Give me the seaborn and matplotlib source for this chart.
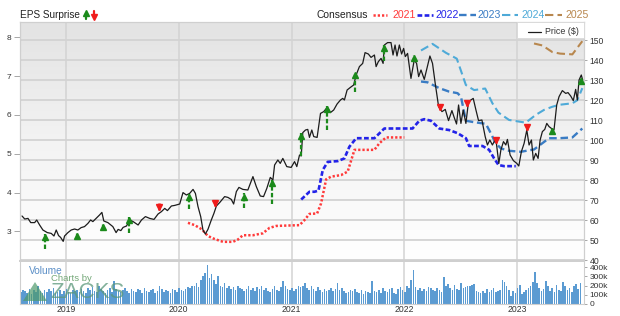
import numpy as np
import pandas as pd
import matplotlib
matplotlib.use("Agg")
import matplotlib.pyplot as plt
import matplotlib.transforms as mtransforms
from matplotlib.lines import Line2D
from matplotlib.patches import Polygon, Rectangle
from matplotlib.colors import LinearSegmentedColormap
import seaborn as sns

# ---------------- data ----------------
price_t = [2018.611, 2018.635, 2018.664, 2018.688, 2018.723, 2018.741, 2018.767, 2018.796, 2018.835, 2018.870,
           2018.894, 2018.914, 2018.935, 2018.953, 2018.976, 2018.988, 2019.018, 2019.047, 2019.077, 2019.106,
           2019.135, 2019.165, 2019.195, 2019.219, 2019.239, 2019.268, 2019.298, 2019.319, 2019.336, 2019.372,
           2019.416, 2019.445, 2019.463, 2019.487, 2019.507, 2019.537, 2019.566, 2019.596, 2019.640, 2019.670,
           2019.705, 2019.743, 2019.781, 2019.817, 2019.847, 2019.876, 2019.900, 2019.935, 2019.965, 2020.009,
           2020.038, 2020.068, 2020.097, 2020.127, 2020.148, 2020.171, 2020.195, 2020.215, 2020.236, 2020.259,
           2020.289, 2020.312, 2020.334, 2020.363, 2020.407, 2020.436, 2020.466, 2020.487, 2020.511, 2020.534,
           2020.569, 2020.613, 2020.658, 2020.688, 2020.723, 2020.752, 2020.781, 2020.812, 2020.835, 2020.850,
           2020.879, 2020.900, 2020.923, 2020.958, 2020.997, 2021.027, 2021.047, 2021.071, 2021.086, 2021.100,
           2021.124, 2021.144, 2021.159, 2021.180, 2021.197, 2021.227, 2021.257, 2021.286, 2021.316, 2021.345,
           2021.374, 2021.404, 2021.434, 2021.454, 2021.469, 2021.493, 2021.522, 2021.551, 2021.573, 2021.602,
           2021.631, 2021.652, 2021.681, 2021.705, 2021.735, 2021.750, 2021.770, 2021.794, 2021.812, 2021.823,
           2021.852, 2021.882, 2021.900, 2021.918, 2021.935, 2021.956, 2021.976, 2021.994, 2022.009, 2022.029,
           2022.059, 2022.088, 2022.109, 2022.127, 2022.148, 2022.177, 2022.197, 2022.227, 2022.250, 2022.274,
           2022.304, 2022.334, 2022.363, 2022.392, 2022.422, 2022.442, 2022.463, 2022.481, 2022.502, 2022.522,
           2022.546, 2022.569, 2022.590, 2022.611, 2022.635, 2022.658, 2022.688, 2022.717, 2022.737, 2022.758,
           2022.781, 2022.811, 2022.838, 2022.856, 2022.879, 2022.900, 2022.914, 2022.938, 2022.967, 2022.997,
           2023.015, 2023.038, 2023.062, 2023.086, 2023.106, 2023.127, 2023.144, 2023.165, 2023.186, 2023.204,
           2023.224, 2023.245, 2023.263, 2023.283, 2023.304, 2023.327, 2023.351, 2023.372, 2023.401, 2023.431,
           2023.451, 2023.475, 2023.498, 2023.519, 2023.534, 2023.549, 2023.569, 2023.581]
price_v = [62, 60.5, 60.8, 58.7, 58.7, 60, 57.5, 55, 53.7, 53.3,
           52, 55, 52.2, 51.3, 49.3, 52, 53.7, 55, 55.5, 55,
           56.2, 56.7, 58.3, 60, 59.2, 60.8, 62.5, 63.8, 59.5, 58.7,
           56.7, 53.7, 55.3, 54.7, 56.3, 57, 60, 59.2, 57.5, 60,
           61.7, 60.8, 60.3, 63, 64.2, 65.8, 64.7, 67, 67.3, 68,
           73.7, 72.5, 73.3, 75.3, 73.3, 66.7, 61.7, 55, 53, 55.3,
           60, 63.3, 67, 68.7, 71.7, 71.3, 70.3, 68, 74.2, 76.3,
           75.3, 75, 81.7, 76.7, 72, 71.7, 75.8, 81.3, 80, 87.5,
           90, 88.3, 90.8, 86.7, 86.3, 89.2, 86.7, 92.5, 92, 103.7,
           105, 105.3, 101.3, 105, 101.7, 101.3, 113.3, 114.2, 116.3, 113.7,
           115, 118, 120, 120.8, 120, 125, 126.3, 127.5, 132.5, 136.7,
           138.3, 143.7, 143, 141.3, 142.5, 136.7, 139.2, 140.8, 138.3, 147.5,
           148.7, 148.7, 142.5, 147.5, 142, 147.5, 143, 145.8, 141.7, 143.3,
           130.8, 140, 138.3, 131.7, 135, 130.3, 135, 142, 138.3, 128.3,
           116.7, 114.2, 115.3, 109.7, 114.7, 111.3, 108, 117.5, 108.3, 115,
           108.3, 119.2, 120, 120.8, 115, 109.7, 110, 101.7, 97.5, 100,
           97.5, 100.8, 88.3, 95, 99.2, 97.5, 100.3, 92.5, 89.7, 88.3,
           87, 94.2, 98.3, 105, 97.5, 100, 90, 93.3, 90.8, 100,
           104.2, 105.3, 108.3, 106.7, 105.8, 105, 117.5, 121.7, 124.7, 123.3,
           123.7, 122, 119.7, 125.3, 120, 130, 132.5, 130]

c21_t = [2020.082, 2020.142, 2020.206, 2020.259, 2020.312, 2020.392, 2020.481, 2020.525, 2020.569, 2020.658,
         2020.746, 2020.805, 2020.865, 2021.071, 2021.115, 2021.159, 2021.227, 2021.262, 2021.307, 2021.351,
         2021.439, 2021.498, 2021.558, 2021.735, 2021.779, 2021.838, 2022.000]
c21_v = [3.22, 3.16, 3.05, 2.88, 2.81, 2.73, 2.73, 2.79, 2.90, 2.90,
         2.95, 3.09, 3.14, 3.16, 3.29, 3.45, 3.46, 3.72, 4.34, 4.41,
         4.45, 4.54, 5.10, 5.10, 5.27, 5.42, 5.42]
c22_t = [2021.086, 2021.159, 2021.204, 2021.239, 2021.277, 2021.321, 2021.410, 2021.469, 2021.513, 2021.573,
         2021.735, 2021.823, 2022.073, 2022.133, 2022.177, 2022.236, 2022.310, 2022.398, 2022.472, 2022.546,
         2022.575, 2022.693, 2022.752, 2022.796, 2022.835, 2022.885, 2022.988]
c22_v = [3.82, 4.02, 4.02, 4.05, 4.58, 4.79, 4.81, 4.88, 5.18, 5.40,
         5.40, 5.65, 5.65, 5.85, 5.89, 5.85, 5.65, 5.61, 5.53, 5.40,
         5.20, 5.20, 5.10, 4.88, 4.71, 4.68, 4.68]
c23_t = [2022.148, 2022.206, 2022.310, 2022.398, 2022.472, 2022.502, 2022.546, 2022.604, 2022.723, 2022.752,
         2022.811, 2022.856, 2022.914, 2023.032, 2023.091, 2023.150, 2023.283, 2023.372, 2023.490, 2023.578]
c23_v = [6.86, 6.84, 6.69, 6.60, 6.56, 6.47, 5.85, 5.82, 5.77, 5.61,
         5.27, 5.14, 5.08, 5.05, 5.08, 5.11, 5.40, 5.40, 5.42, 5.65]
c24_t = [2022.148, 2022.250, 2022.369, 2022.465, 2022.546, 2022.619, 2022.717, 2022.781, 2022.835, 2022.929,
         2023.077, 2023.165, 2023.239, 2023.312, 2023.372, 2023.490, 2023.534, 2023.578]
c24_v = [7.66, 7.83, 7.60, 7.45, 6.77, 6.64, 6.68, 6.30, 6.06, 5.87,
         5.80, 6.00, 6.13, 6.21, 6.26, 6.30, 6.38, 6.69]
c25_t = [2023.150, 2023.224, 2023.312, 2023.381, 2023.490, 2023.578]
c25_v = [7.84, 7.79, 7.62, 7.58, 7.56, 7.90]

surp_t = [2018.817, 2019.100, 2019.327, 2019.560, 2019.823, 2020.088, 2020.323, 2020.578, 2020.829, 2021.086,
          2021.316, 2021.566, 2021.817, 2022.088, 2022.316, 2022.560, 2022.817, 2023.086, 2023.312, 2023.564]
surp_sign = ['+', '+', '+', '+', '-', '+', '-', '+', '+', '+',
             '+', '+', '+', '+', '-', '-', '-', '-', '+', '+']
surp_tip = [53, 53.7, 58, 61.7, 65, 73, 67, 73.3, 80, 103.7,
            117, 134.2, 147.5, 142.5, 115, 117, 98.5, 105, 106.3, 131.3]
surp_tail = [45.3, 51, 55.5, 53.7, 68.3, 65.3, 70, 65.8, 68, 92,
             105, 124.2, 139.7, 139.2, 118, 120, 101.5, 108, 103.7, 128.7]

vol_start = 2018.60
vol_k = [130, 150, 140, 120, 160, 110, 150, 130, 200, 140, 120, 150, 130, 160, 140, 170, 120, 130, 150, 110, 140, 160, 130, 120, 150, 140,
         150, 130, 160, 140, 120, 170, 150, 180, 140, 130, 200, 160, 140, 120, 150, 170, 130, 250, 160, 140, 130, 150, 170, 140, 120, 160,
         140, 130, 160, 150, 120, 170, 140, 130, 150, 160, 120, 140, 190, 160, 130, 150, 140, 120, 160, 150, 130, 170, 150, 140, 160, 180,
         170, 200, 190, 230, 180, 260, 300, 340, 420, 280, 320, 260, 220, 300, 200, 180, 230, 170, 190, 160, 180, 150, 200, 170, 160, 140,
         160, 190, 150, 170, 140, 180, 160, 200, 150, 170, 140, 130, 160, 190, 150, 140, 180, 250, 200, 160, 150, 170, 140, 160, 200, 180,
         190, 230, 170, 150, 200, 160, 140, 180, 150, 130, 160, 140, 150, 170, 140, 160, 230, 150, 170, 140, 120, 130, 150, 140, 160, 130,
         120, 150, 110, 140, 130, 120, 250, 140, 130, 150, 120, 170, 140, 130, 160, 170, 120, 110, 160, 180, 150, 130, 200, 170, 260, 370,
         180, 150, 170, 140, 160, 140, 180, 170, 150, 140, 170, 150, 130, 290, 200, 220, 170, 150, 210, 160, 150, 230, 170, 180, 200, 190,
         210, 220, 140, 130, 120, 140, 120, 160, 130, 150, 170, 130, 140, 150, 260, 240, 190, 150, 90, 140, 120, 170, 210, 110, 130, 150,
         170, 200, 240, 350, 230, 170, 140, 160, 250, 190, 140, 170, 130, 210, 150, 140, 240, 200, 150, 170, 130, 200, 220, 160, 230]

years = [2019, 2020, 2021, 2022, 2023]
year_labels = ["2019", "2020", "2021", "2022", "2023"]
eps_ticks = [3, 4, 5, 6, 7, 8]
price_ticks = [40, 50, 60, 70, 80, 90, 100, 110, 120, 130, 140, 150]
vol_ticks = [0, 100, 200, 300, 400]
vol_tick_labels = ["0", "100k", "200k", "300k", "400k"]

# ---------------- styling ----------------
sns.set_theme(style="white")
plt.rcParams['font.family'] = ['Liberation Sans', 'DejaVu Sans']

W, H = 620, 316
fig = plt.figure(figsize=(W / 100, H / 100), dpi=100)
fig.patch.set_facecolor('white')


def fx(px):
    return px / W


def fy(py):
    return 1 - py / H


L, R, T, B = 20, 584, 22, 260
ax = fig.add_axes([fx(L), fy(B), fx(R) - fx(L), fy(T) - fy(B)])
axv = fig.add_axes([fx(L), fy(304), fx(R) - fx(L), fy(261) - fy(304)])
axp = ax.twinx()

XMIN, XMAX = 2018.593, 2023.593
GRID = '#d3d3d3'
TXT = '#333333'

# background gradient
grad = np.linspace(0, 1, 256).reshape(-1, 1)
cm = LinearSegmentedColormap.from_list('g', ['#e3e3e3', '#f3f3f3', '#ffffff'])
ax.imshow(grad, extent=[0, 1, 0, 1], transform=ax.transAxes, aspect='auto',
          cmap=cm, origin='upper', zorder=0, interpolation='bicubic')

ax.set_xlim(XMIN, XMAX)
axv.set_xlim(XMIN, XMAX)
ax.set_ylim(2.262, 8.394)
axp.set_ylim(40, 159)

# horizontal grid at price ticks drawn beneath everything
ytr = axp.get_yaxis_transform()
for p in price_ticks:
    ax.add_line(Line2D([0, 1], [p, p], transform=ytr, color=GRID, lw=1.3, zorder=1))
for y in years:
    ax.axvline(y, color=GRID, lw=1.1, zorder=1)
    axv.axvline(y, color=GRID, lw=1.1, zorder=0)

# consensus lines (EPS axis)
cons = [
    (c21_t, c21_v, '#ff3a3a', 1.8, (0, (0.9, 0.8))),
    (c22_t, c22_v, '#2323e8', 1.9, (0, (1.8, 0.9))),
    (c23_t, c23_v, '#3a7cc4', 1.7, (0, (3.2, 1.6))),
    (c24_t, c24_v, '#4eaad8', 1.5, (0, (4.0, 2.0))),
    (c25_t, c25_v, '#b8874e', 1.5, (0, (4.0, 2.0))),
]
for t, v, c, lw, ls in cons:
    sns.lineplot(x=t, y=v, ax=ax, color=c, lw=lw, linestyle=ls, zorder=3, sort=False)

# price line (price axis)
sns.lineplot(x=price_t, y=price_v, ax=axp, color='#1c1c1c', lw=0.9, zorder=4, sort=False)

# EPS surprise arrows
GREEN = '#1b8a1b'
RED = '#f01c1c'
down_off = mtransforms.offset_copy(axp.transData, fig=fig, y=-2.3, units='points')
up_off = mtransforms.offset_copy(axp.transData, fig=fig, y=2.3, units='points')
for t, s, tip, tail in zip(surp_t, surp_sign, surp_tip, surp_tail):
    if s == '+':
        axp.plot([t, t], [tail, tip], color=GREEN, lw=1.6, linestyle=(0, (2, 1)), zorder=5,
                 solid_capstyle='butt', dash_capstyle='butt')
        axp.plot([t], [tip], marker='^', ms=4.8, color=GREEN, mec=GREEN, transform=down_off, zorder=6)
    else:
        axp.plot([t, t], [tail, tip], color=RED, lw=1.8, zorder=5, solid_capstyle='butt')
        axp.plot([t], [tip], marker='v', ms=5.0, color=RED, mec=RED, transform=up_off, zorder=6)

# axes cosmetics
for a in (ax, axp):
    for sp in a.spines.values():
        sp.set_color('#cfcfcf')
        sp.set_linewidth(0.8)
ax.set_xticks(years)
ax.tick_params(axis='x', bottom=False, labelbottom=False)
axp.tick_params(axis='x', bottom=False, labelbottom=False)

ax.yaxis.tick_left()
ax.set_yticks(eps_ticks)
ax.set_yticklabels([str(e) for e in eps_ticks])
ax.tick_params(axis='y', left=True, right=False, labelleft=True, labelright=False, length=4,
               width=0.6, color='#999999', labelsize=6, labelcolor=TXT, pad=2)

axp.yaxis.tick_right()
axp.set_yticks(price_ticks)
axp.set_yticklabels([str(p) for p in price_ticks])
axp.tick_params(axis='y', right=True, left=False, labelright=True, labelleft=False, length=2,
                width=0.6, color='#999999', labelsize=6.2, labelcolor=TXT, pad=2)
ax.set_xlabel('')
ax.set_ylabel('')
axp.set_ylabel('')

# volume panel
vol_t = [vol_start + i / 52 for i in range(len(vol_k))]
axv.bar(vol_t, vol_k, width=0.74 / 52, color='#5b9bd2', edgecolor='none', zorder=2)
axv.set_ylim(0, 465)
axv.set_facecolor('white')
axv.set_xticks(years)
axv.set_xticklabels(year_labels)
axv.tick_params(axis='x', bottom=False, length=0, labelsize=6.2, labelcolor=TXT, pad=1)
axv.yaxis.tick_right()
axv.set_yticks(vol_ticks)
axv.set_yticklabels(vol_tick_labels)
axv.tick_params(axis='y', right=True, left=False, labelright=True, labelleft=False, length=2,
                width=0.6, color='#999999', labelsize=6, labelcolor=TXT, pad=2)
for sp in axv.spines.values():
    sp.set_color('#cfcfcf')
    sp.set_linewidth(0.8)
axv.spines['top'].set_linewidth(1.4)

# watermark
fig.text(fx(29), fy(270.5), 'Volume', color='#5b8fc7', fontsize=7.3, va='center', ha='left', zorder=10)
fig.text(fx(51), fy(278.5), 'Charts by', color='#74a878', fontsize=6.8, va='center', ha='left', zorder=10)
fig.text(fx(50), fy(293), 'ZACKS', color='#5a977a', alpha=0.75, fontsize=16, va='center', ha='left', zorder=10)
tri = Polygon([[fx(23), fy(301)], [fx(35), fy(282)], [fx(47), fy(301)]], closed=True,
              transform=fig.transFigure, facecolor='#4e9a6c', alpha=0.7, edgecolor='none', zorder=10)
fig.add_artist(tri)

# top legends
fig.text(fx(20), fy(15), 'EPS Surprise', color='#222222', fontsize=7.2, va='center', ha='left')
fig.add_artist(Line2D([fx(85.5), fx(85.5)], [fy(19), fy(14)], transform=fig.transFigure, color=GREEN, lw=1.6))
fig.add_artist(Line2D([fx(85.5)], [fy(13)], transform=fig.transFigure, marker='^', ms=4.2, color=GREEN, lw=0))
fig.add_artist(Line2D([fx(93.5), fx(93.5)], [fy(11), fy(16)], transform=fig.transFigure, color=RED, lw=1.6))
fig.add_artist(Line2D([fx(93.5)], [fy(17)], transform=fig.transFigure, marker='v', ms=4.2, color=RED, lw=0))

fig.text(fx(316.5), fy(15), 'Consensus', color='#222222', fontsize=7.4, va='center', ha='left')
leg_items = [
    (373, 387, 392.5, '2021', '#ff3a3a', 1.8, (0, (0.9, 0.8))),
    (416.5, 433, 436, '2022', '#2323e8', 1.9, (0, (1.8, 0.9))),
    (459, 476, 478, '2023', '#3a7cc4', 1.7, (0, (3.2, 1.6))),
    (502.5, 518, 521.5, '2024', '#4eaad8', 1.5, (0, (4.0, 2.0))),
    (545, 562, 565, '2025', '#b8874e', 1.5, (0, (4.0, 2.0))),
]
for x0, x1, xt, lab, c, lw, ls in leg_items:
    fig.add_artist(Line2D([fx(x0), fx(x1)], [fy(14.5), fy(14.5)], transform=fig.transFigure,
                          color=c, lw=lw, linestyle=ls))
    fig.text(fx(xt), fy(15), lab, color=c, fontsize=7.6, va='center', ha='left')

# price legend box
fig.add_artist(Rectangle((fx(517), fy(38)), fx(584) - fx(517), fy(22) - fy(38), transform=fig.transFigure,
                         facecolor='white', edgecolor='#d8d8d8', lw=0.6, zorder=20))
fig.add_artist(Line2D([fx(528), fx(541)], [fy(31.5), fy(31.5)], transform=fig.transFigure,
                      color='#1c1c1c', lw=0.9, zorder=21))
fig.text(fx(545), fy(31.5), 'Price ($)', color='#333333', fontsize=6.4, va='center', ha='left', zorder=21)

fig.savefig('out.png', dpi=100)
